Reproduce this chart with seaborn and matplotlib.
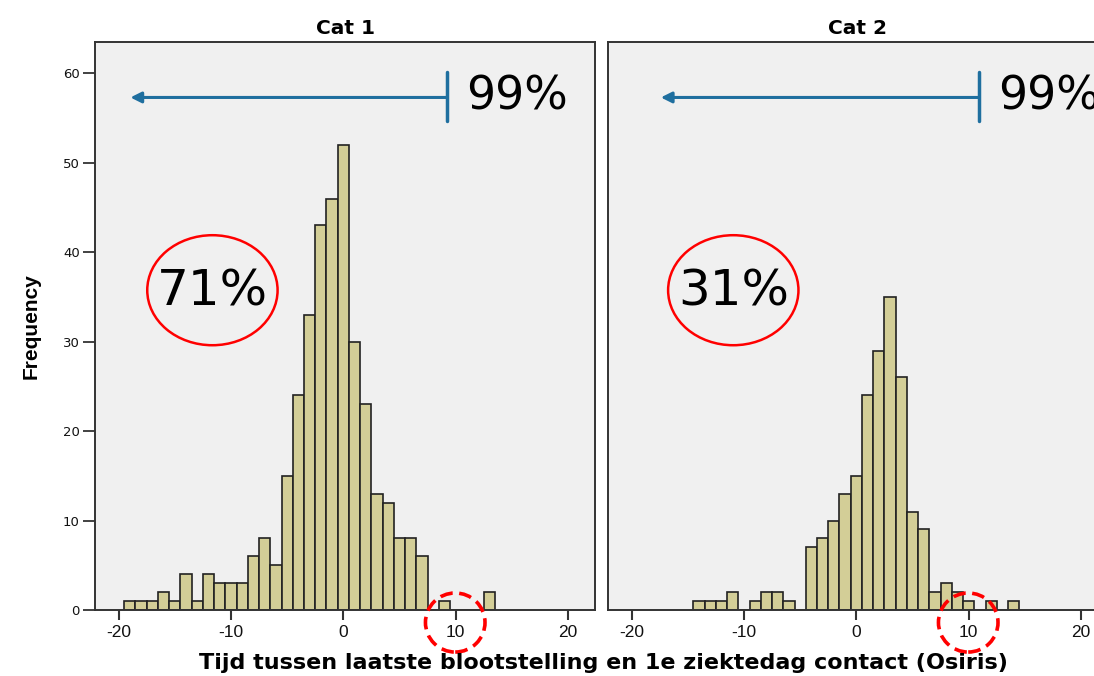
import numpy as np
import pandas as pd
import matplotlib
matplotlib.use("Agg")
import matplotlib.pyplot as plt
from matplotlib.patches import Ellipse
import seaborn as sns

# bin centres (bin width 1) and counts
cat1_bins = [-19, -18, -17, -16, -15, -14, -13, -12, -11, -10, -9, -8, -7, -6,
             -5, -4, -3, -2, -1, 0, 1, 2, 3, 4, 5, 6, 7, 8, 9, 10, 11, 12, 13]
cat1_counts = [1, 1, 1, 2, 1, 4, 1, 4, 3, 3, 3, 6, 8, 5,
               15, 24, 33, 43, 46, 52, 30, 23, 13, 12, 8, 8, 6, 0, 1, 0, 0, 0, 2]

cat2_bins = [-14, -13, -12, -11, -10, -9, -8, -7, -6, -5, -4, -3, -2, -1,
             0, 1, 2, 3, 4, 5, 6, 7, 8, 9, 10, 11, 12, 13, 14]
cat2_counts = [1, 1, 1, 2, 0, 1, 2, 2, 1, 0, 7, 8, 10, 13,
               15, 24, 29, 35, 26, 11, 9, 2, 3, 2, 1, 0, 1, 0, 1]

panel_titles = ["Cat 1", "Cat 2"]
pct_inside = ["71%", "31%"]
pct_arrow = "99%"
x_ticks = [-20, -10, 0, 10, 20]
y_ticks = [0, 10, 20, 30, 40, 50, 60]
xlabel = "Tijd tussen laatste blootstelling en 1e ziektedag contact (Osiris)"
ylabel = "Frequency"

# annotation positions (data units)
arrow_bar_x = [9.25, 10.95]
arrow_tip_x = [-18.95, -17.4]
ellipse_x = [-11.65, -10.95]

sns.set_style("white", {"axes.facecolor": "#f0f0f0"})
plt.rcParams["font.family"] = ["Liberation Sans", "DejaVu Sans"]
plt.rcParams["text.color"] = "black"

bar_color = "#d3ce97"
blue = "#1f6f9f"

fig = plt.figure(figsize=(10.94, 6.76), dpi=100)
ax1 = fig.add_axes([95 / 1094, 66 / 676, 500 / 1094, 568 / 676])
ax2 = fig.add_axes([608 / 1094, 66 / 676, 500 / 1094, 568 / 676])

panels = [(ax1, cat1_bins, cat1_counts), (ax2, cat2_bins, cat2_counts)]

for i, (ax, bins, counts) in enumerate(panels):
    df = pd.DataFrame({"x": bins, "n": counts})
    sns.histplot(data=df, x="x", weights="n", discrete=True, ax=ax,
                 color=bar_color, alpha=1, edgecolor="#222222", linewidth=1.2)
    ax.set_xlim(-22.1, 22.4)
    ax.set_ylim(0, 63.5)
    ax.set_xticks(x_ticks)
    ax.set_xticklabels([str(t) for t in x_ticks], fontsize=12.5, color="#111111")
    ax.set_title(panel_titles[i], fontsize=14.5, fontweight="bold", pad=6,
                 family="DejaVu Sans", color="black")
    ax.set_xlabel("")
    ax.set_ylabel("")
    ax.tick_params(axis="x", bottom=True, direction="out", length=7, width=1.5,
                   color="#333333", pad=4)
    for s in ax.spines.values():
        s.set_color("#333333")
        s.set_linewidth(1.4)

    # 99% range arrow
    ax.annotate("", xy=(arrow_tip_x[i], 57.3), xytext=(arrow_bar_x[i], 57.3),
                arrowprops=dict(arrowstyle="-|>", color=blue, lw=2.2,
                                mutation_scale=16, shrinkA=0, shrinkB=0))
    ax.plot([arrow_bar_x[i], arrow_bar_x[i]], [54.7, 60.1], color=blue, lw=2.5)
    ax.text(arrow_bar_x[i] + 1.7, 57.3, pct_arrow, fontsize=33, va="center",
            ha="left", family="DejaVu Sans", color="black", clip_on=False)

    # red ellipse with percentage
    ax.add_patch(Ellipse((ellipse_x[i], 35.75), 11.6, 12.3, fill=False,
                         edgecolor="red", lw=1.8))
    ax.text(ellipse_x[i], 35.6, pct_inside[i], fontsize=36, ha="center",
            va="center", family="DejaVu Sans", color="black")

    # dashed circle around 10
    ax.add_patch(Ellipse((9.96, -1.4), 5.3, 6.6, fill=False, edgecolor="red",
                         lw=2.6, ls=(0, (3.5, 1.8)), clip_on=False, zorder=5))

ax1.set_yticks(y_ticks)
ax1.set_yticklabels([str(t) for t in y_ticks], fontsize=9.5, color="#111111",
                    family="DejaVu Sans")
ax1.tick_params(axis="y", left=True, direction="out", length=9, width=1.3,
                color="#333333", pad=2)
ax2.set_yticks([])
ax1.set_ylabel(ylabel, fontsize=15, fontweight="bold", labelpad=16, color="black")

fig.text(603 / 1094, 1 - 663 / 676, xlabel, ha="center", va="center",
         fontsize=16, fontweight="bold", family="DejaVu Sans", color="black")

fig.savefig("out.png", dpi=100, facecolor="white")
